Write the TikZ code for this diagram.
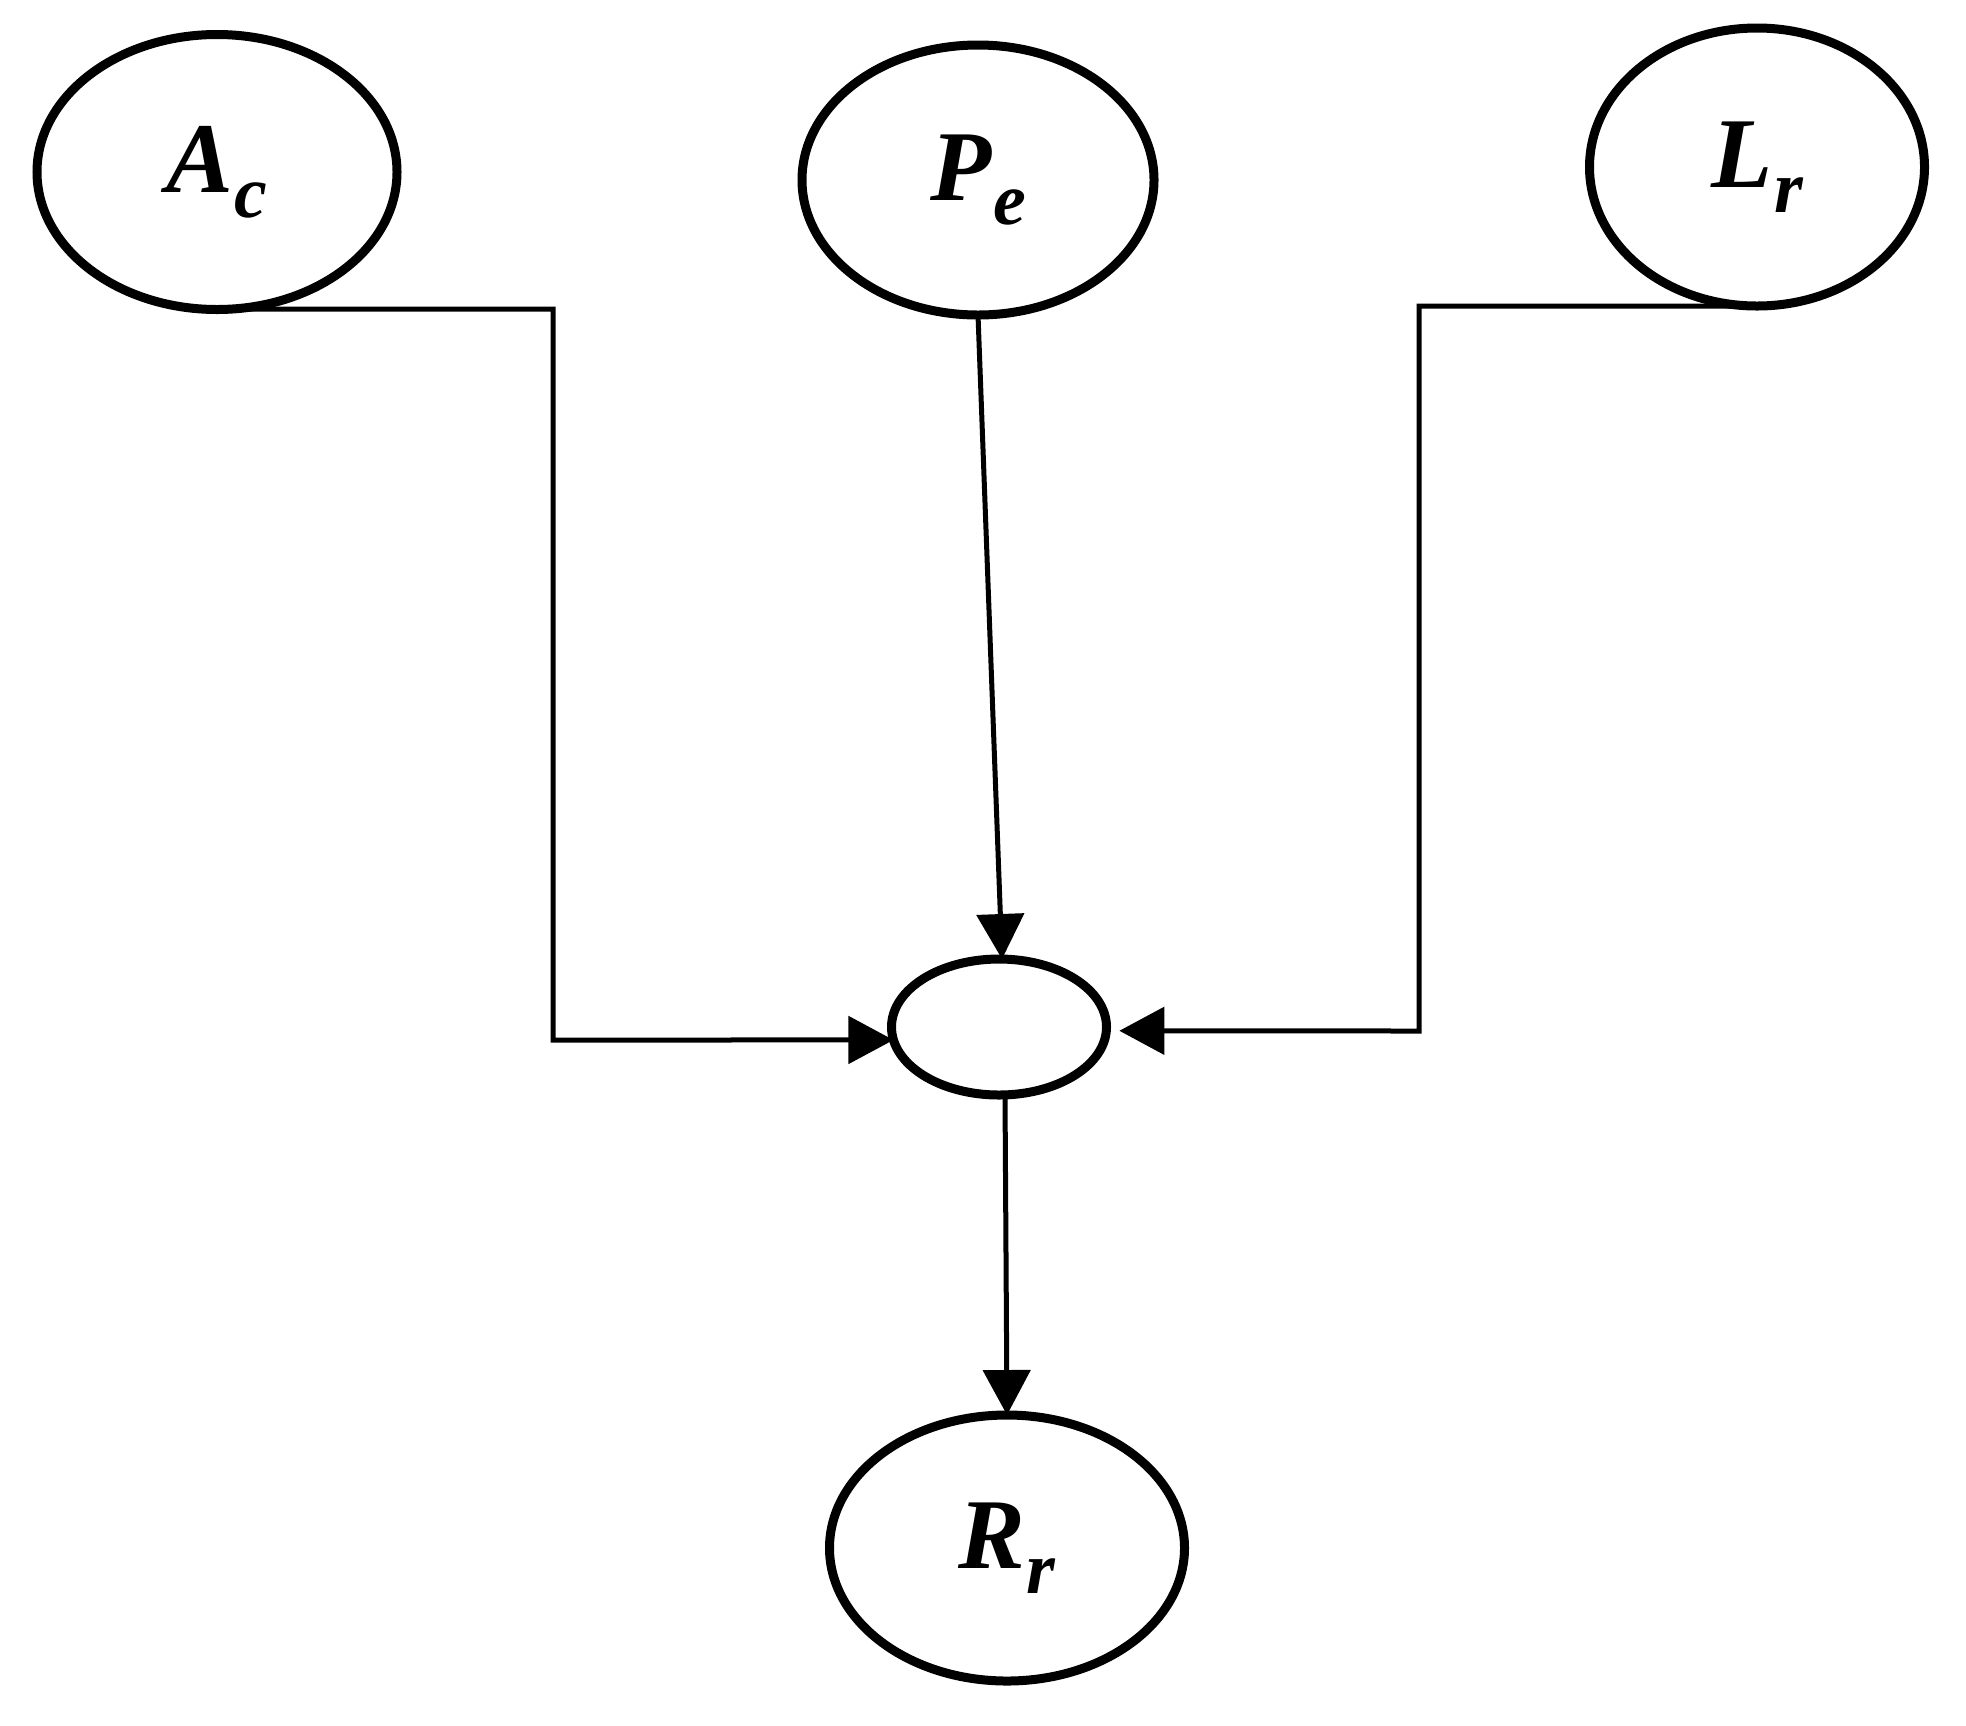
\documentclass[tikz,border=0pt]{standalone}
\usepackage{fontspec}
\setmainfont{Liberation Serif}
\usetikzlibrary{shapes.geometric,arrows.meta}

% variable name with a lowered subscript
\newcommand{\sublbl}[2]{{\fontsize{57}{57}\selectfont\bfseries\itshape #1\kern1pt\raisebox{-14pt}{\fontsize{42}{42}\selectfont #2}}}

\begin{document}
\begin{tikzpicture}[x=0.2mm, y=-0.2mm,
    factor/.style={ellipse, draw, line width=1.8mm, outer sep=0pt, inner sep=0pt},
    link/.style={line width=1mm, -{Triangle[length=9mm, width=9.4mm]}},
    ]
    \useasboundingbox (0,0) rectangle (1966,1725);

    \node[factor, minimum width=72mm, minimum height=55mm] (A) at (217,172) {\sublbl{A}{c}};
    \node[factor, minimum width=70.4mm, minimum height=54mm] (P) at (978,180) {\sublbl{P}{e}};
    \node[factor, minimum width=67mm, minimum height=55.6mm] (L) at (1757,167) {\sublbl{L}{r}};
    \node[factor, minimum width=43mm, minimum height=27.2mm] (C) at (999,1027) {};
    \node[factor, minimum width=71mm, minimum height=53.2mm] (R) at (1007,1548) {\sublbl{R}{r}};

    \draw[link] (A.-85) -| (553,1040) -- (C.187);
    \draw[link] (P.south) -- ([xshift=0.6mm]C.north);
    \draw[link, shorten >=2.6mm] (L.south) -| (1419,1031) -- (C.-2);
    \draw[link] ([xshift=1.2mm]C.south) -- (R.north);
  \end{tikzpicture}
\end{document}
